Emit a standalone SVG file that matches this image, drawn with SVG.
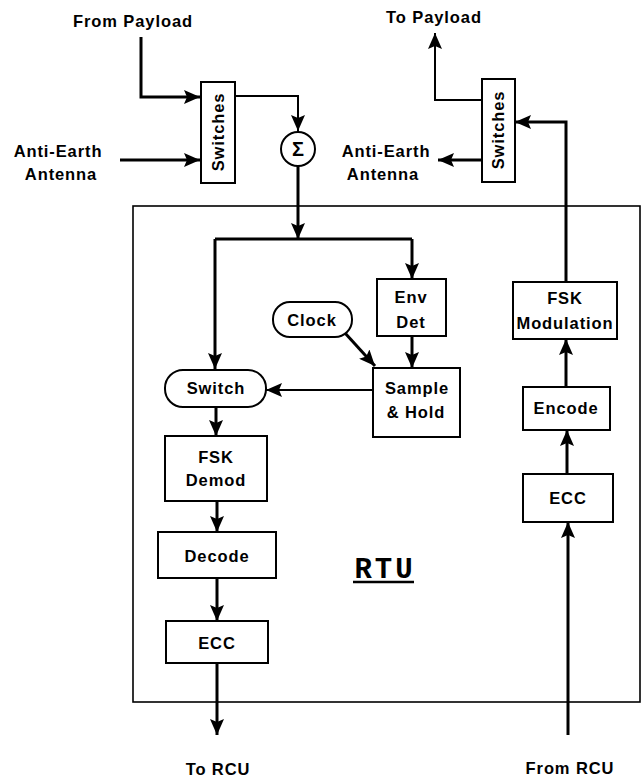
<svg xmlns="http://www.w3.org/2000/svg" width="643" height="778" viewBox="0 0 643 778">
<defs>
<marker id="ah" markerUnits="userSpaceOnUse" markerWidth="17" markerHeight="14" refX="16" refY="7" orient="auto">
<path d="M0,0 L16,7 L0,14 L3,7 z" fill="#000"/>
</marker>
</defs>
<style>
text{font-family:"Liberation Sans",Arial,sans-serif;font-weight:bold;font-size:16.5px;letter-spacing:0.9px;fill:#000;text-anchor:middle}
.box{fill:#fff;stroke:#000;stroke-width:2}
.c{fill:none;stroke:#000;stroke-width:3}
.t{fill:none;stroke:#000;stroke-width:2}
.rtu{font-family:"Liberation Mono","Courier New",monospace;font-size:29px;letter-spacing:3px}
</style>
<rect x="133" y="206" width="507" height="496" fill="none" stroke="#000" stroke-width="1.6"/>
<g id="connectors">
<path class="c" d="M141,37 V97 H200" marker-end="url(#ah)"/>
<path class="c" d="M120,160 H200" marker-end="url(#ah)"/>
<path class="t" d="M235,96 H298 V131" marker-end="url(#ah)"/>
<path class="c" d="M298,166 V239" marker-end="url(#ah)"/>
<path class="c" d="M215,239 H412"/>
<path class="c" d="M215,239 V369" marker-end="url(#ah)"/>
<path class="c" d="M412,239 V279" marker-end="url(#ah)"/>
<path class="c" d="M412,336 V368" marker-end="url(#ah)"/>
<path class="c" d="M345,333 L375,366" marker-end="url(#ah)"/>
<path class="t" d="M373,390 H266" marker-end="url(#ah)"/>
<path class="c" d="M216,407 V436" marker-end="url(#ah)"/>
<path class="c" d="M217,501 V532" marker-end="url(#ah)"/>
<path class="c" d="M217,578 V621" marker-end="url(#ah)"/>
<path class="c" d="M217,663 V735" marker-end="url(#ah)"/>
<path class="c" d="M568,735 V522" marker-end="url(#ah)"/>
<path class="c" d="M567,474 V430" marker-end="url(#ah)"/>
<path class="c" d="M566,387 V339" marker-end="url(#ah)"/>
<path class="c" d="M566,282 V122 H515" marker-end="url(#ah)"/>
<path class="c" d="M482,160 H438" marker-end="url(#ah)"/>
<path class="t" d="M482,100 H435 V33" marker-end="url(#ah)"/>
</g>
<g id="lbl-from-payload"><text x="133" y="27">From Payload</text></g>
<g id="lbl-to-payload"><text x="434" y="23">To Payload</text></g>
<g id="lbl-antenna-left"><text x="58" y="157">Anti-Earth</text><text x="61" y="180">Antenna</text></g>
<g id="lbl-antenna-right"><text x="386" y="157">Anti-Earth</text><text x="383" y="180">Antenna</text></g>
<g id="switches-left"><rect class="box" x="201" y="82" width="34" height="101"/><text transform="translate(224,132) rotate(-90)">Switches</text></g>
<g id="switches-right"><rect class="box" x="482" y="79" width="33" height="103"/><text transform="translate(504,130) rotate(-90)">Switches</text></g>
<g id="sum"><circle cx="298" cy="149" r="17" fill="#fff" stroke="#000" stroke-width="2"/><text x="298" y="156" style="letter-spacing:0;font-size:20px">Σ</text></g>
<g id="env-det"><rect class="box" x="377" y="279" width="69" height="57"/><text x="411" y="303">Env</text><text x="411" y="328">Det</text></g>
<g id="clock"><rect class="box" x="273" y="302" width="79" height="35" rx="17" ry="17"/><text x="312" y="326">Clock</text></g>
<g id="sample-hold"><rect class="box" x="373" y="368" width="87" height="69"/><text x="417" y="394">Sample</text><text x="416" y="418">&amp; Hold</text></g>
<g id="switch"><rect class="box" x="165" y="370" width="101" height="37" rx="18" ry="18"/><text x="216" y="394">Switch</text></g>
<g id="fsk-demod"><rect class="box" x="165" y="436" width="102" height="65"/><text x="216" y="463">FSK</text><text x="216" y="486">Demod</text></g>
<g id="decode"><rect class="box" x="158" y="532" width="118" height="46"/><text x="217" y="562">Decode</text></g>
<g id="ecc-left"><rect class="box" x="166" y="621" width="102" height="42"/><text x="217" y="649">ECC</text></g>
<g id="fsk-mod"><rect class="box" x="513" y="282" width="104" height="57"/><text x="565" y="304">FSK</text><text x="565" y="329">Modulation</text></g>
<g id="encode"><rect class="box" x="523" y="387" width="87" height="43"/><text x="566" y="414">Encode</text></g>
<g id="ecc-right"><rect class="box" x="523" y="474" width="90" height="48"/><text x="568" y="504">ECC</text></g>
<g id="rtu-label"><text class="rtu" x="385" y="578">RTU</text><line x1="353" y1="582" x2="414" y2="582" stroke="#000" stroke-width="2.5"/></g>
<g id="lbl-to-rcu"><text x="218" y="775">To RCU</text></g>
<g id="lbl-from-rcu"><text x="570" y="774">From RCU</text></g>
</svg>
